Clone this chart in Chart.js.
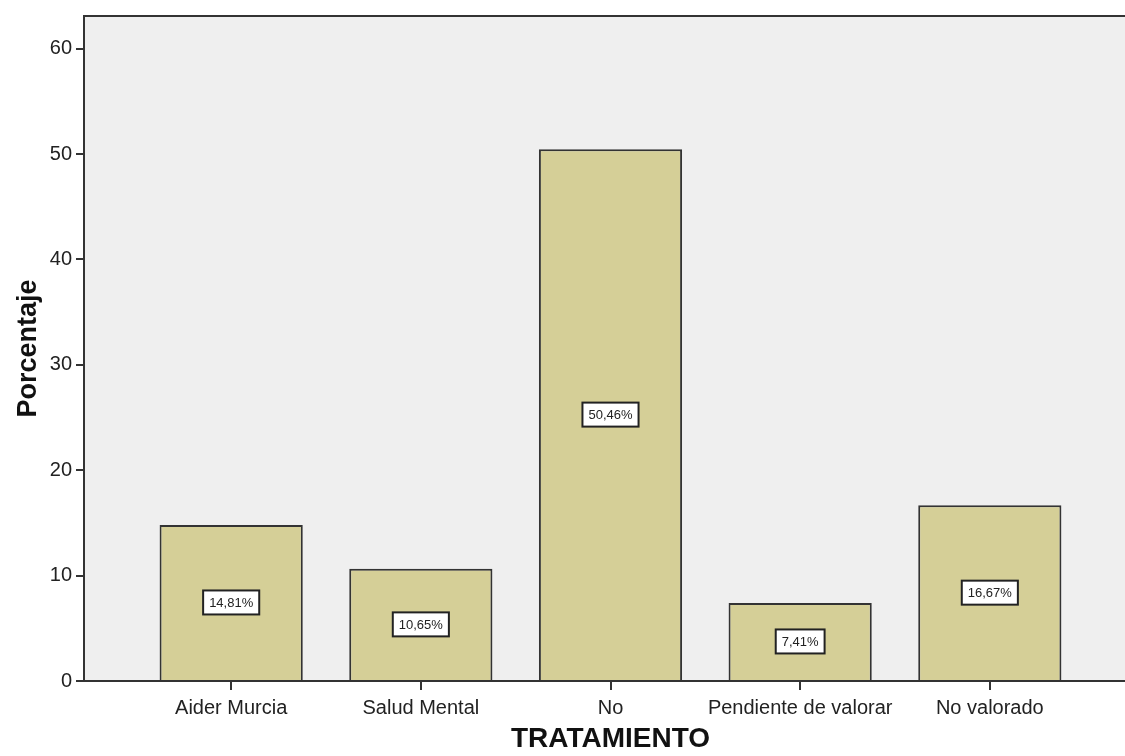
<!DOCTYPE html>
<html lang="es">
<head>
    <meta charset="UTF-8">
    <title>TRATAMIENTO</title>
    <script src="https://cdn.jsdelivr.net/npm/chart.js"></script>
    <style>
        html, body { margin: 0; padding: 0; background: #fff; overflow: hidden; }
        #contenedor { width: 1137px; height: 756px; position: relative; }
    </style>
</head>
<body>
    <div id="contenedor">
        <canvas id="grafico"></canvas>
    </div>

    <script>
        // datos
        const categorias = ['Aider Murcia', 'Salud Mental', 'No', 'Pendiente de valorar', 'No valorado'];
        const porcentajes = [14.81, 10.65, 50.46, 7.41, 16.67];
        const ticksY = [0, 10, 20, 30, 40, 50, 60];

        const fuente = "'Liberation Sans', Arial, sans-serif";

        // fondo gris y marco del área de trazado
        const fondoPlugin = {
            id: 'fondo',
            beforeDraw(chart) {
                const { ctx, chartArea: a } = chart;
                ctx.save();
                ctx.fillStyle = '#efefef';
                ctx.fillRect(a.left, a.top, a.right - a.left, a.bottom - a.top);
                ctx.restore();
            },
            afterDraw(chart) {
                const { ctx, chartArea: a } = chart;
                ctx.save();
                ctx.strokeStyle = '#333';
                ctx.lineWidth = 2;
                ctx.strokeRect(a.left, a.top, a.right - a.left, a.bottom - a.top);
                ctx.restore();
            }
        };

        // etiquetas con porcentaje en el centro de cada barra
        const etiquetasPlugin = {
            id: 'etiquetas',
            afterDatasetsDraw(chart) {
                const { ctx } = chart;
                const meta = chart.getDatasetMeta(0);
                ctx.save();
                ctx.font = '13px ' + fuente;
                ctx.textAlign = 'center';
                ctx.textBaseline = 'middle';
                meta.data.forEach((barra, i) => {
                    const texto = porcentajes[i].toFixed(2).replace('.', ',') + '%';
                    const yc = (barra.y + barra.base) / 2;
                    const w = ctx.measureText(texto).width + 12;
                    const h = 24;
                    ctx.fillStyle = '#fff';
                    ctx.fillRect(barra.x - w / 2, yc - h / 2, w, h);
                    ctx.strokeStyle = '#222';
                    ctx.lineWidth = 2;
                    ctx.strokeRect(barra.x - w / 2, yc - h / 2, w, h);
                    ctx.fillStyle = '#222';
                    ctx.fillText(texto, barra.x, yc + 1);
                });
                ctx.restore();
            }
        };

        new Chart(document.getElementById('grafico'), {
            type: 'bar',
            data: {
                datasets: [{
                    data: categorias.map((c, i) => ({ x: i, y: porcentajes[i] })),
                    backgroundColor: '#d5cf97',
                    borderColor: '#333',
                    borderWidth: 2,
                    borderSkipped: 'bottom',
                    barPercentage: 0.755,
                    categoryPercentage: 1
                }]
            },
            options: {
                responsive: true,
                maintainAspectRatio: false,
                animation: false,
                layout: { padding: { top: 15, right: 0, left: 0, bottom: 0 } },
                plugins: {
                    legend: { display: false },
                    tooltip: { enabled: false }
                },
                scales: {
                    x: {
                        type: 'linear',
                        offset: false,
                        min: -0.776,
                        max: 4.776,
                        afterBuildTicks(scale) {
                            scale.ticks = categorias.map((c, i) => ({ value: i }));
                        },
                        afterFit(scale) { scale.height = 75; },
                        ticks: {
                            callback: (v) => categorias[v],
                            color: '#222',
                            font: { family: fuente, size: 20 },
                            padding: 6,
                            maxRotation: 0,
                            autoSkip: false
                        },
                        grid: {
                            offset: false,
                            drawOnChartArea: false,
                            drawTicks: true,
                            tickLength: 9,
                            color: '#333',
                            lineWidth: 2
                        },
                        border: { display: true, color: '#333', width: 2 },
                        title: {
                            display: true,
                            text: 'TRATAMIENTO',
                            color: '#111',
                            font: { family: fuente, size: 28, weight: 'bold' },
                            padding: { top: 0, bottom: 0 }
                        }
                    },
                    y: {
                        min: 0,
                        max: 63.1,
                        afterBuildTicks(scale) {
                            scale.ticks = ticksY.map(v => ({ value: v }));
                        },
                        afterFit(scale) { scale.width = 84; },
                        ticks: {
                            color: '#222',
                            font: { family: fuente, size: 20 },
                            padding: 4
                        },
                        grid: {
                            drawOnChartArea: false,
                            drawTicks: true,
                            tickLength: 8,
                            color: '#333',
                            lineWidth: 2
                        },
                        border: { display: true, color: '#333', width: 2 },
                        title: {
                            display: true,
                            text: 'Porcentaje',
                            color: '#111',
                            font: { family: fuente, size: 27, weight: 'bold' },
                            padding: { top: 12, bottom: 0 }
                        }
                    }
                }
            },
            plugins: [fondoPlugin, etiquetasPlugin]
        });
    </script>
</body>
</html>
